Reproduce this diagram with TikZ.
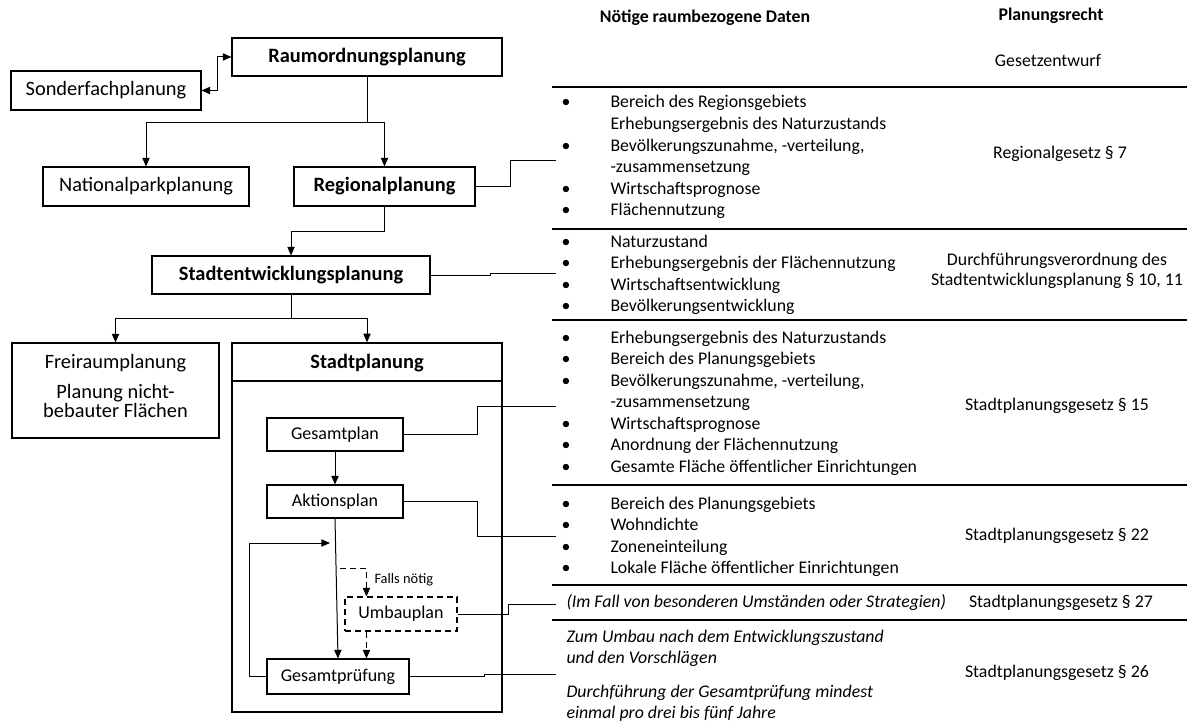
\documentclass[tikz,border=0pt]{standalone}
\usepackage{fontspec}
\setmainfont{Carlito}
\usetikzlibrary{arrows.meta,calc}
\newcommand\boxfnt{\fontsize{15.3pt}{18pt}\selectfont}
\newcommand\innerfnt{\fontsize{13.5pt}{16pt}\selectfont}
\newcommand\listfnt{\fontsize{13.35pt}{16pt}\selectfont}
\newcommand\smallfnt{\fontsize{10.8pt}{12pt}\selectfont}
\begin{document}
\begin{tikzpicture}[x=0.75pt,y=-0.75pt,line width=0.75pt,
  pbox/.style 2 args={draw,line width=0.8pt,minimum width=#1*0.75pt,minimum height=#2*0.75pt,inner sep=0pt,font=\boxfnt},
  ibox/.style 2 args={draw,line width=0.8pt,minimum width=#1*0.75pt,minimum height=#2*0.75pt,inner sep=0pt,font=\innerfnt},
  arr/.style={-{Triangle[length=6.5pt,width=5.5pt]}},
  darr/.style={{Triangle[length=6.5pt,width=5.5pt]}-{Triangle[length=6.5pt,width=5.5pt]}},
  dsh/.style={dash pattern=on 4.5pt off 3pt},
  sep/.style={line width=1.8pt},
  lt/.style={anchor=base west,inner sep=0pt,font=\listfnt},
  it/.style={anchor=base west,inner sep=0pt,font=\listfnt\itshape},
  bul/.style={anchor=base,inner sep=0pt,font=\listfnt},
  law/.style={anchor=base,inner sep=0pt,font=\listfnt,align=center},
  hd/.style={anchor=base,inner sep=0pt,font=\listfnt\bfseries},
  bt/.style={anchor=base,inner sep=0pt,font=\boxfnt}]
\useasboundingbox (0,0) rectangle (1187,724);

% ---- planning hierarchy ----
\node[pbox={270}{38},font=\boxfnt\bfseries] (raum) at (367,57) {Raumordnungsplanung};
\node[pbox={190}{39}] (sonder) at (106,90.5) {Sonderfachplanung};
\node[pbox={206}{39}] (natp) at (146,186.5) {Nationalparkplanung};
\node[pbox={181}{39},font=\boxfnt\bfseries] (reg) at (384.5,186.5) {Regionalplanung};
\node[pbox={278}{38},font=\boxfnt\bfseries] (sew) at (291,275) {Stadtentwicklungsplanung};
\node[pbox={207}{95}] (frei) at (115.5,390.5) {};
\node[bt] (frei1) at (115.5,368) {Freiraumplanung};
\node[bt] (frei2) at (115.5,398) {Planung nicht-};
\node[bt] (frei3) at (115.5,417) {bebauter Flächen};

% ---- Stadtplanung frame ----
\node[draw,line width=1.1pt,minimum width=270*0.75pt,minimum height=369*0.75pt,inner sep=0pt] (stadt) at (367,527.5) {};
\node[bt,font=\boxfnt\bfseries] (stadtT) at (367,368) {Stadtplanung};
\draw[line width=1.1pt] (stadt.west |- 0,381) -- (stadt.east |- 0,381);

\node[ibox={136}{33}] (gp) at (335,434.5) {Gesamtplan};
\node[ibox={136}{33}] (ap) at (335,501.5) {Aktionsplan};
\node[ibox={112}{34},dsh] (umb) at (401,614) {Umbauplan};
\node[ibox={142}{35}] (gpr) at (338,676.5) {Gesamtprüfung};

% ---- connectors on the left ----
\draw[darr] (sonder.east) -- ++(16,0) |- (raum.west);
\draw (raum.south) -- ++(0,46) coordinate (j1);
\draw[arr] (j1) -| (natp.north);
\draw[arr] (j1) -| (reg.north);
\draw[arr] (reg.south) -- ++(0,25) -| (sew.north);
\draw (sew.south) -- ++(0,24) coordinate (j2);
\draw[arr] (j2) -| (frei.north);
\draw[arr] (j2) -| (stadt.north);
\draw[arr] (gp.south) -- (ap.north);
\draw[arr] (ap.south) -- (gpr.north);
\coordinate (loopend) at (330,543);
\draw[arr] (gpr.west) -- ++(-17,0) |- (loopend);
\coordinate (dstart) at (340,568);
\coordinate (uin) at ($(umb.north west)+(22,0)$);
\coordinate (uout) at ($(umb.south west)+(22,0)$);
\draw[arr,dsh] (dstart) -| (uin);
\node[anchor=west,inner sep=0pt,font=\smallfnt] (fn) at (374,580) {Falls nötig};
\draw[arr,dsh] (uout) -- (uout |- gpr.north);

% ---- links to the data table ----
\coordinate (c1) at (556,160);
\coordinate (c2) at (556,273);
\coordinate (c3) at (556,406);
\coordinate (c4) at (556,536);
\coordinate (c5) at (556,604);
\coordinate (c6) at (556,674);
\draw (reg.east) -- ++(35,0) |- (c1);
\draw (sew.east) -- ++(60,0) |- (c2);
\draw (gp.east) -- ++(74,0) |- (c3);
\draw (ap.east) -- ++(74,0) |- (c4);
\draw (umb.east) -- ++(51,0) |- (c5);
\draw (gpr.east) -- ++(75,0) |- (c6);

% ---- table rules ----
\foreach \yy in {87,229,320,485,585,620} \draw[sep] (552,\yy) -- (1187,\yy);

% ---- headings ----
\node[hd] (h1) at (705,23) {Nötige raumbezogene Daten};
\node[hd] (h2) at (1051,21) {Planungsrecht};
\node[law] (l0) at (1048,66) {Gesetzentwurf};

% ---- Regionalplanung data ----
\node[bul] (b11) at (566,108) {•}; \node[lt] (t11) at (610,108) {Bereich des Regionsgebiets};
\node[lt] (t12) at (610,129.5) {Erhebungsergebnis des Naturzustands};
\node[bul] (b13) at (566,151) {•}; \node[lt] (t13) at (610,151) {Bevölkerungszunahme, -verteilung,};
\node[lt] (t14) at (610,172.5) {-zusammensetzung};
\node[bul] (b15) at (566,194) {•}; \node[lt] (t15) at (610,194) {Wirtschaftsprognose};
\node[bul] (b16) at (566,215.5) {•}; \node[lt] (t16) at (610,215.5) {Flächennutzung};
\node[law] (l1) at (1060,158) {Regionalgesetz § 7};

% ---- Stadtentwicklungsplanung data ----
\node[bul] (b21) at (566,247) {•}; \node[lt] (t21) at (610,247) {Naturzustand};
\node[bul] (b22) at (566,268.5) {•}; \node[lt] (t22) at (610,268.5) {Erhebungsergebnis der Flächennutzung};
\node[bul] (b23) at (566,290) {•}; \node[lt] (t23) at (610,290) {Wirtschaftsentwicklung};
\node[bul] (b24) at (566,311.5) {•}; \node[lt] (t24) at (610,311.5) {Bevölkerungsentwicklung};
\node[law] (l2a) at (1057,265) {Durchführungsverordnung des};
\node[law] (l2b) at (1057,285) {Stadtentwicklungsplanung § 10, 11};

% ---- Gesamtplan data ----
\node[bul] (b31) at (566,343) {•}; \node[lt] (t31) at (610,343) {Erhebungsergebnis des Naturzustands};
\node[bul] (b32) at (566,364.5) {•}; \node[lt] (t32) at (610,364.5) {Bereich des Planungsgebiets};
\node[bul] (b33) at (566,386) {•}; \node[lt] (t33) at (610,386) {Bevölkerungszunahme, -verteilung,};
\node[lt] (t34) at (610,407.5) {-zusammensetzung};
\node[bul] (b35) at (566,429) {•}; \node[lt] (t35) at (610,429) {Wirtschaftsprognose};
\node[bul] (b36) at (566,450.5) {•}; \node[lt] (t36) at (610,450.5) {Anordnung der Flächennutzung};
\node[bul] (b37) at (566,472) {•}; \node[lt] (t37) at (610,472) {Gesamte Fläche öffentlicher Einrichtungen};
\node[law] (l3) at (1057,410) {Stadtplanungsgesetz § 15};

% ---- Aktionsplan data ----
\node[bul] (b41) at (566,509) {•}; \node[lt] (t41) at (610,509) {Bereich des Planungsgebiets};
\node[bul] (b42) at (566,530.5) {•}; \node[lt] (t42) at (610,530.5) {Wohndichte};
\node[bul] (b43) at (566,552) {•}; \node[lt] (t43) at (610,552) {Zoneneinteilung};
\node[bul] (b44) at (566,573.5) {•}; \node[lt] (t44) at (610,573.5) {Lokale Fläche öffentlicher Einrichtungen};
\node[law] (l4) at (1057,540) {Stadtplanungsgesetz § 22};

% ---- Umbauplan data ----
\node[it] (t51) at (566,607) {(Im Fall von besonderen Umständen oder Strategien)};
\node[lt] (l5) at ($(t51.base east)+(22,0)$) {Stadtplanungsgesetz § 27};

% ---- Gesamtprüfung data ----
\node[it] (t61) at (566,642) {Zum Umbau nach dem Entwicklungszustand};
\node[it] (t62) at (566,663) {und den Vorschlägen};
\node[it] (t63) at (566,697) {Durchführung der Gesamtprüfung mindest};
\node[it] (t64) at (566,718) {einmal pro drei bis fünf Jahre};
\node[law] (l6) at (1057,677) {Stadtplanungsgesetz § 26};
\end{tikzpicture}
\end{document}
